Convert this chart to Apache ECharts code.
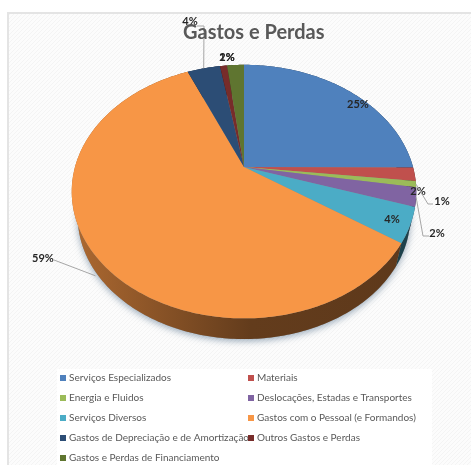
<!DOCTYPE html>
<html>
<head>
<meta charset="utf-8">
<script src="https://cdn.jsdelivr.net/npm/echarts@6/dist/echarts.min.js"></script>
<style>
html, body { margin: 0; padding: 0; background: #fff; }
#chart { width: 471px; height: 465px; }
</style>
</head>
<body>
<div id="chart"></div>
<script>
var categories = ['Serviços Especializados', 'Materiais', 'Energia e Fluidos', 'Deslocações, Estadas e Transportes', 'Serviços Diversos', 'Gastos com o Pessoal (e Formandos)', 'Gastos de Depreciação e de Amortização', 'Outros Gastos e Perdas', 'Gastos e Perdas de Financiamento']
var values = [25, 1.7, 0.8, 2.4, 4.4, 59, 3.7, 0.8, 1.9]
var percentLabels = [25, 2, 1, 2, 4, 59, 4, 1, 2]
var colors = ['#4f81bd', '#c0504d', '#9bbb59', '#8064a2', '#4bacc6', '#f79646', '#2c4d75', '#772c2a', '#5f7530']

// onde fica cada rotulo (centro do texto) e o cotovelo da linha, quando existe
var labelPos = [[358, 104], [418, 191], [442, 201], [437, 233], [392, 219], [43, 258], [190, 21], [227, 57], [227, 57]]
var leaderElbow = [null, null, [428, 204], [423, 236], null, [54, 260], [204, 26], null, null]
var leaderEnd = [null, null, [433, 204], [429, 236], null, null, [197, 26], null, null]
var leaderDrop = [0, 0, 0, 0, 0, 20, 0, 0, 0]

// pie em perspetiva: o centro do circulo nao coincide com o centro da elipse
var cx = 244, cy = 167, rA = 169, rB = 122, persp = 0.194
// a base fica mais pequena e mais abaixo
var baseScale = 0.965, baseDrop = 26
var total = values.reduce(function (a, b) { return a + b }, 0)

function project(angle) {
  var u = Math.sin(angle), v = -Math.cos(angle), d = 1 - persp * v
  return [cx + rA * u / d, cy + rB * v / d]
}
function projectBase(angle) {
  var p = project(angle)
  return [cx + (p[0] - cx) * baseScale, cy + (p[1] - cy) * baseScale + baseDrop]
}
function sliceAngles(i) {
  var before = 0
  for (var j = 0; j < i; j++) before += values[j]
  return [before / total * Math.PI * 2, (before + values[i]) / total * Math.PI * 2]
}
function arcPoints(a0, a1, fn) {
  var pts = [], n = Math.max(2, Math.ceil((a1 - a0) * 60))
  for (var s = 0; s <= n; s++) pts.push(fn(a0 + (a1 - a0) * s / n))
  return pts
}
function shade(hex, f) {
  var n = parseInt(hex.slice(1), 16)
  return 'rgb(' + Math.round((n >> 16) * f) + ',' + Math.round(((n >> 8) & 255) * f) + ',' + Math.round((n & 255) * f) + ')'
}
// tracejado diagonal muito claro do fundo
function hatchPattern() {
  var c = document.createElement('canvas')
  c.width = 4
  c.height = 4
  var g = c.getContext('2d')
  g.fillStyle = '#fcfcfc'
  g.fillRect(0, 0, 4, 4)
  g.strokeStyle = '#f4f4f4'
  g.lineWidth = 1
  g.beginPath()
  g.moveTo(-1, 5)
  g.lineTo(5, -1)
  g.stroke()
  return { image: c, repeat: 'repeat' }
}

function renderShadow() {
  return {
    type: 'polygon',
    shape: { points: arcPoints(0, Math.PI * 2, projectBase) },
    style: { fill: '#8a8a8a', shadowBlur: 7, shadowColor: 'rgba(70,100,130,0.55)', shadowOffsetY: 2 }
  }
}
function renderWall(i) {
  return function () {
    var a = sliceAngles(i)
    var arc = arcPoints(a[0], a[1], project)
    var low = arcPoints(a[0], a[1], projectBase).reverse()
    return {
      type: 'polygon',
      shape: { points: arc.concat(low) },
      style: {
        fill: new echarts.graphic.LinearGradient(72, 0, 416, 0, [
          { offset: 0, color: shade(colors[i], 0.7) },
          { offset: 0.52, color: shade(colors[i], 0.4) },
          { offset: 1, color: shade(colors[i], 0.38) }
        ], true)
      }
    }
  }
}
function renderFace(i) {
  return function () {
    var a = sliceAngles(i)
    return {
      type: 'polygon',
      shape: { points: [[cx, cy]].concat(arcPoints(a[0], a[1], project)) },
      style: { fill: colors[i] }
    }
  }
}
function renderLabel(params, api) {
  var i = params.dataIndex, a = sliceAngles(i), kids = []
  if (leaderElbow[i]) {
    var start = project((a[0] + a[1]) / 2)
    var line = [[start[0], start[1] + leaderDrop[i]], leaderElbow[i]]
    if (leaderEnd[i]) line.push(leaderEnd[i])
    kids.push({ type: 'polyline', shape: { points: line }, style: { fill: null, stroke: '#a6a6a6', lineWidth: 1 } })
  }
  kids.push({
    type: 'text',
    style: {
      x: labelPos[i][0], y: labelPos[i][1],
      text: api.value(0) + '%',
      align: 'center', verticalAlign: 'middle',
      font: 'bold 11px Lato', fill: '#262626'
    }
  })
  return { type: 'group', children: kids }
}

var series = [{
  type: 'custom', name: 'sombra', coordinateSystem: 'none', z: 1, silent: true,
  data: [0], renderItem: renderShadow
}]
categories.forEach(function (name, i) {
  series.push({
    type: 'custom', name: 'lado ' + name, coordinateSystem: 'none', z: 2, silent: true,
    data: [values[i]], renderItem: renderWall(i)
  })
})
categories.forEach(function (name, i) {
  series.push({
    type: 'custom', name: name, coordinateSystem: 'none', z: 3,
    itemStyle: { color: colors[i] },
    data: [values[i]], renderItem: renderFace(i)
  })
})
series.push({
  type: 'custom', name: 'rotulos', coordinateSystem: 'none', z: 4, silent: true,
  data: percentLabels, renderItem: renderLabel
})

function legendColumn(names, left) {
  return {
    data: names, orient: 'vertical', left: left, top: 372,
    icon: 'rect', itemWidth: 6, itemHeight: 6, itemGap: 8, padding: 0,
    selectedMode: false,
    textStyle: { color: '#595959', fontFamily: 'Lato', fontSize: 10, lineHeight: 12, padding: [0, 0, 0, -2] }
  }
}

var chart = echarts.init(document.getElementById('chart'), null, { renderer: 'canvas' })
chart.setOption({
  animation: false,
  backgroundColor: '#fff',
  title: {
    text: 'Gastos e Perdas', left: 183, top: 23, padding: 0,
    textStyle: { color: '#595959', fontFamily: 'Lato', fontSize: 20, fontWeight: 'bold' }
  },
  legend: [
    legendColumn(categories.filter(function (c, i) { return i % 2 === 0 }), 60),
    legendColumn(categories.filter(function (c, i) { return i % 2 === 1 }), 248)
  ],
  graphic: [
    { type: 'rect', z: -2, shape: { x: 8, y: 13, width: 470, height: 460 }, style: { fill: hatchPattern(), stroke: '#e4e4e4', lineWidth: 2 } },
    { type: 'rect', z: -1, shape: { x: 57, y: 369, width: 375, height: 96 }, style: { fill: '#ffffff' } }
  ],
  series: series
})
</script>
</body>
</html>
